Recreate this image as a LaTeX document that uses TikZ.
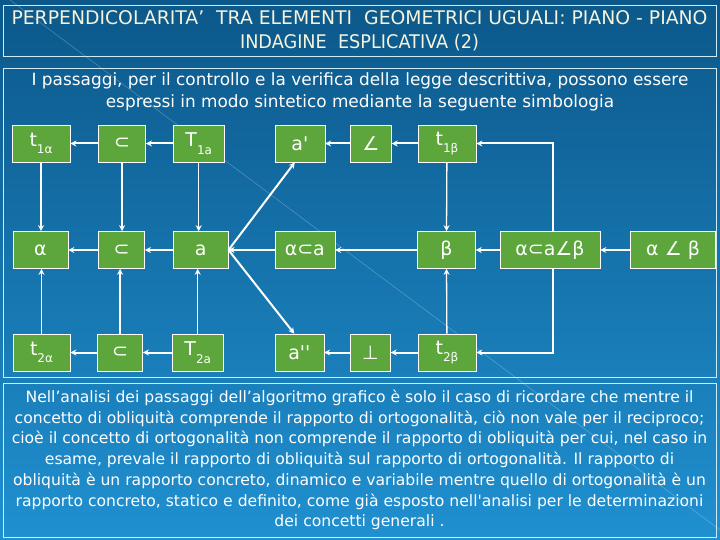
\documentclass[tikz,border=0pt]{standalone}
\usepackage{fontspec}
\setmainfont{DejaVu Sans}
\usetikzlibrary{positioning}
\usetikzlibrary{arrows.meta}
\definecolor{sfondoA}{RGB}{12,88,138}
\definecolor{sfondoB}{RGB}{32,144,208}
\definecolor{verde}{RGB}{92,166,60}
\definecolor{cornice}{RGB}{205,236,248}
\definecolor{crema}{RGB}{246,243,222}
\newcommand{\pedice}[1]{\raisebox{-0.4em}{\fontsize{12}{12}\selectfont #1}}

\begin{document}
\begin{tikzpicture}
      [ x=1pt, y=-1pt
        , box/.style={rectangle, draw=white, line width=0.6pt, fill=verde, text=white,
            inner sep=0pt, minimum height=37pt, font=\fontsize{19}{19}\selectfont}
        , arr/.style={draw=white, line width=2pt, -{Stealth[length=6pt,width=6pt]}}
        , thinarr/.style={draw=white, line width=1.3pt, -{Stealth[length=6pt,width=6pt]}}
        , frame/.style={draw=cornice, line width=0.9pt}
      ]
      \useasboundingbox (0,0) rectangle (720,540);
      \shade[top color=sfondoA, bottom color=sfondoB] (0,0) rectangle (720,540);
      \draw[white, opacity=0.25, line width=0.6pt] (10,0) -- (720,530);

      \node (titolo) [frame, minimum width=713pt, minimum height=51pt, inner sep=0pt,
          text=crema, align=center, font=\fontsize{18.8}{24}\selectfont] at (359.5,31)
          {PERPENDICOLARITA’\ \ TRA ELEMENTI\ \ GEOMETRICI UGUALI: PIANO - PIANO\\
           \scalebox{0.94}[1]{INDAGINE\ \ ESPLICATIVA (2)}};
      \draw[frame] (3,68) rectangle (716,377);
      \node (intro) [text=white, align=center, font=\fontsize{16.9}{21.5}\selectfont] at (360,92)
          {I passaggi, per il controllo e la verifica della legge descrittiva, possono essere\\
           espressi in modo sintetico mediante la seguente simbologia};

      \node (t1a) [box, minimum width=58pt] at (41,143.5) {t\pedice{1α}};
      \node (sub1) [box, minimum width=47pt, right=28pt of t1a] {⊂};
      \node (T1a) [box, minimum width=51pt, right=27pt of sub1] {T\pedice{1a}};
      \node (a1) [box, minimum width=50pt, right=50pt of T1a] {a\textquotesingle};
      \node (ang) [box, minimum width=41pt, right=25pt of a1] {∠};
      \node (t1b) [box, minimum width=58pt, right=26pt of ang] {t\pedice{1β}};

      \node (al) [box, minimum width=55pt] at (40.5,250) {α};
      \node (sub2) [box, minimum width=46pt, right=30pt of al] {⊂};
      \node (a) [box, minimum width=55pt, right=28pt of sub2] {a};
      \node (aca) [box, minimum width=60pt, right=46pt of a] {α⊂a};
      \node (b) [box, minimum width=58pt, right=82pt of aca] {β};
      \node (acab) [box, minimum width=100pt, right=24pt of b] {α⊂a∠β};
      \node (anb) [box, minimum width=85pt, right=30pt of acab] {α ∠ β};

      \node (t2a) [box, minimum width=57pt] at (41.5,352.5) {t\pedice{2α}};
      \node (sub3) [box, minimum width=45pt, right=27pt of t2a] {⊂};
      \node (T2a) [box, minimum width=51pt, right=29pt of sub3] {T\pedice{2a}};
      \node (a2) [box, minimum width=49pt, right=51pt of T2a] {a\textquotesingle\textquotesingle};
      \node (perp) [box, minimum width=40pt, right=26pt of a2] {⊥};
      \node (t2b) [box, minimum width=58pt, right=27pt of perp] {t\pedice{2β}};

      \draw[arr] (sub1) -- (t1a);
      \draw[arr] (T1a) -- (sub1);
      \draw[arr] (ang) -- (a1);
      \draw[arr] (t1b) -- (ang);

      \draw[arr] (sub2) -- (al);
      \draw[arr] (a) -- (sub2);
      \draw[arr] (aca) -- (a);
      \draw[arr] (b) -- (aca);
      \draw[arr] (acab) -- (b);
      \draw[arr] (anb) -- (acab);

      \draw[arr] (sub3) -- (t2a);
      \draw[arr] (T2a) -- (sub3);
      \draw[arr] (perp) -- (a2);
      \draw[arr] (t2b) -- (perp);

      \draw[thinarr] (t1a.south) -- (t1a.south |- al.north);
      \draw[thinarr] (sub1.south) -- (sub1.south |- sub2.north);
      \draw[thinarr] (T1a.south) -- (T1a.south |- a.north);
      \draw[thinarr] (t1b) -- (b);
      \draw[thinarr] (t2a.north) -- (t2a.north |- al.south);
      \draw[thinarr] (sub3.north) -- (sub3.north |- sub2.south);
      \draw[thinarr] (T2a.north) -- (T2a.north |- a.south);
      \draw[thinarr] (t2b) -- (b);

      \draw[arr] (a.east) -- ([xshift=-5pt]a1.south);
      \draw[arr] (a.east) -- ([xshift=-5pt]a2.north);
      \draw[arr] ([xshift=3pt]acab.north) |- (t1b.east);
      \draw[arr] ([xshift=3pt]acab.south) |- (t2b.east);

      \node (nota) [frame, minimum width=713pt, minimum height=154pt, inner sep=0pt,
          text=white, align=center, font=\fontsize{15.6}{20.7}\selectfont] at (359.5,460)
          {Nell’analisi dei passaggi dell’algoritmo grafico è solo il caso di ricordare che mentre il\\
           concetto di obliquità comprende il rapporto di ortogonalità, ciò non vale per il reciproco;\\
           cioè il concetto di ortogonalità non comprende il rapporto di obliquità per cui, nel caso in\\
           esame, prevale il rapporto di obliquità sul rapporto di ortogonalità. Il rapporto di\\
           obliquità è un rapporto concreto, dinamico e variabile mentre quello di ortogonalità è un\\
           rapporto concreto, statico e definito, come già esposto nell\textquotesingle analisi per le determinazioni\\
           dei concetti generali .};

    \end{tikzpicture}
\end{document}
